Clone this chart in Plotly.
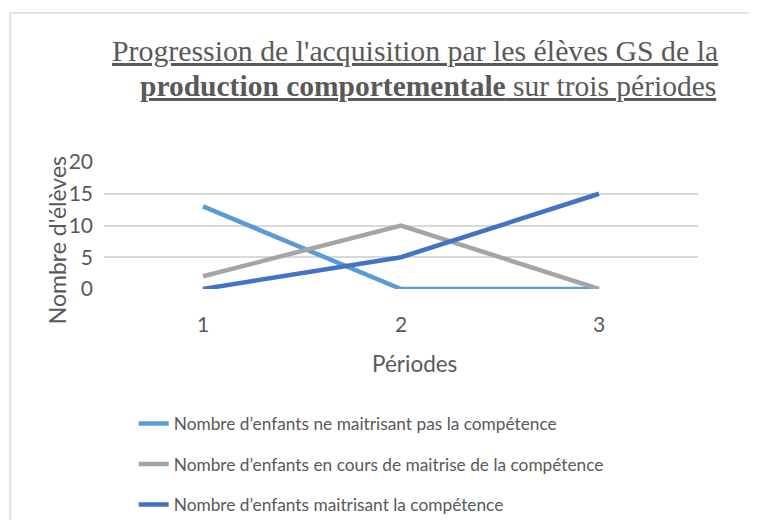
import plotly.graph_objects as go

# data
periodes = ["1", "2", "3"]
ne_maitrisant_pas = [13, 0, 0]
en_cours = [2, 10, 0]
maitrisant = [0, 5, 15]
noms = [
    "Nombre d’enfants ne maitrisant pas la compétence",
    "Nombre d’enfants en cours de maitrise de la compétence",
    "Nombre d’enfants maitrisant la compétence",
]
couleurs = ["#5B9BD5", "#A5A5A5", "#4472C4"]
y_ticks = [0, 5, 10, 15, 20]

TXT = "#595959"
FONT = "Lato"

fig = go.Figure()
for i, (vals, nom) in enumerate(zip([ne_maitrisant_pas, en_cours, maitrisant], noms)):
    fig.add_trace(go.Scatter(
        x=periodes, y=vals, mode="lines", name=nom,
        legendgroup=f"g{i}",
        line=dict(color=couleurs[i], width=4.5),
    ))

# outer chart border (runs off the right and bottom edges like the reference)
fig.add_shape(type="rect", xref="paper", yref="paper",
              x0=-0.158, x1=2.0, y0=-3.0, y1=2.173,
              line=dict(color="#D9D9D9", width=1.5), fillcolor="rgba(0,0,0,0)", layer="below")

# title, two lines, serif, underlined
fig.add_annotation(
    xref="paper", yref="paper", x=0.524, y=1.875, xanchor="center", yanchor="middle",
    text="<u>Progression de l'acquisition par les élèves GS de la</u>",
    showarrow=False, font=dict(family="Liberation Serif", size=29.8, color=TXT),
)
fig.add_annotation(
    xref="paper", yref="paper", x=0.545, y=1.6, xanchor="center", yanchor="middle",
    text="<u><b>production comportementale</b> sur trois périodes</u>",
    showarrow=False, font=dict(family="Liberation Serif", size=29.5, color=TXT),
)

# y-axis title overlapping the tick labels
fig.add_annotation(
    xref="paper", yref="paper", x=-0.079, y=0.385, xanchor="center", yanchor="middle",
    textangle=-90, text="Nombre d'élèves", showarrow=False,
    font=dict(family=FONT, size=23, color=TXT),
)

# x-axis title
fig.add_annotation(
    xref="paper", yref="paper", x=0.522, y=-0.588, xanchor="center", yanchor="middle",
    text="Périodes", showarrow=False,
    font=dict(family=FONT, size=22.5, color=TXT),
)

fig.update_layout(
    width=749, height=512,
    margin=dict(l=96, r=59, t=154, b=231, autoexpand=False),
    paper_bgcolor="white", plot_bgcolor="white",
    showlegend=True,
    legend=dict(
        x=0.05, y=-0.92, xanchor="left", yanchor="top",
        font=dict(family=FONT, size=17.3, color=TXT),
        tracegroupgap=15, bgcolor="rgba(0,0,0,0)",
    ),
    xaxis=dict(
        type="category", range=[-0.5, 2.5],
        showgrid=False, zeroline=False, showline=False, ticks="",
        tickfont=dict(family=FONT, size=21, color=TXT),
        ticklabelstandoff=21,
    ),
    yaxis=dict(
        range=[0, 20], tickvals=y_ticks,
        showgrid=True, gridcolor="#D9D9D9", gridwidth=1.5,
        zeroline=False, showline=False, ticks="",
        tickfont=dict(family=FONT, size=21, color=TXT),
        ticklabelstandoff=10,
    ),
)

fig.write_html("out.html")
